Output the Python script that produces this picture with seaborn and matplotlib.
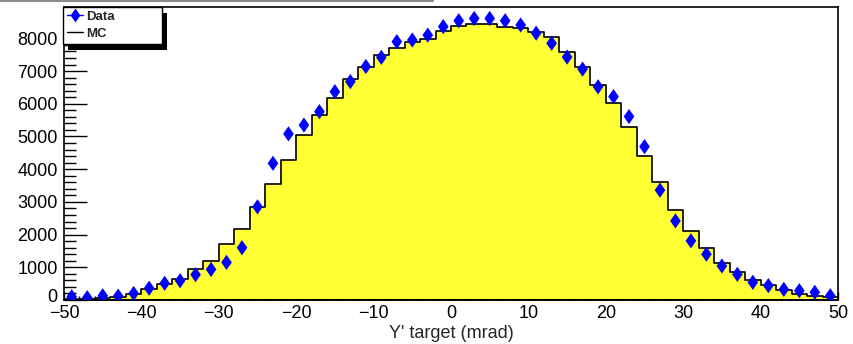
import numpy as np
import pandas as pd
import seaborn as sns
import matplotlib
matplotlib.use("Agg")
import matplotlib.pyplot as plt
from matplotlib.lines import Line2D
from matplotlib.patches import Rectangle
from matplotlib.transforms import IdentityTransform, ScaledTranslation
from matplotlib.ticker import MultipleLocator

# ---- data ----
bin_edges = list(range(-50, 51, 2))
bin_centers = list(range(-49, 50, 2))

mc_counts = [30, 45, 60, 90, 175, 325, 480, 630, 950, 1200,
             1700, 2160, 2830, 3540, 4280, 5050, 5660, 6170, 6750, 7140,
             7490, 7700, 7900, 7970, 8240, 8380, 8440, 8440, 8360, 8310,
             8210, 8050, 7590, 7140, 6580, 6010, 5300, 4400, 3620, 2750,
             2110, 1600, 1140, 870, 610, 460, 310, 180, 130, 100]

data_counts = [100, 70, 130, 120, 200, 360, 510, 590, 775, 935,
               1150, 1600, 2850, 4180, 5080, 5350, 5760, 6370, 6680, 7140,
               7420, 7900, 7950, 8100, 8360, 8540, 8610, 8610, 8540, 8410,
               8160, 7850, 7430, 7060, 6520, 6220, 5610, 4690, 3360, 2420,
               1810, 1400, 1040, 785, 540, 440, 325, 285, 235, 130]

x_ticks = [-50, -40, -30, -20, -10, 0, 10, 20, 30, 40, 50]
y_ticks = [0, 1000, 2000, 3000, 4000, 5000, 6000, 7000, 8000]
x_label = "Y' target (mrad)"
legend_labels = ["Data", "MC"]

df = pd.DataFrame({"x": bin_centers, "mc": mc_counts, "data": data_counts})

# ---- style ----
sns.set_style("ticks")
plt.rcParams["font.family"] = ["Liberation Sans", "DejaVu Sans"]

W, H = 854, 344
fig = plt.figure(figsize=(W / 100, H / 100), dpi=100)
ax = fig.add_axes([64 / W, 44 / H, 774 / W, 293 / H])

# MC histogram (filled yellow step with black outline)
sns.histplot(data=df, x="x", weights="mc", bins=bin_edges, element="step",
             fill=True, ax=ax, color="#ffff33", alpha=1.0,
             edgecolor="black", linewidth=1.2, zorder=1)

# Data points: ROOT-like diamond markers
diamond = [(0, 1), (0.7, 0), (0, -1), (-0.7, 0), (0, 1)]
sns.scatterplot(data=df, x="x", y="data", ax=ax, marker=diamond, s=120,
                color="#0000ff", edgecolor="none", linewidth=0, zorder=3)

ax.set_xlim(-50, 50)
ax.set_ylim(0, 8960)
ax.set_xticks(x_ticks)
ax.set_yticks(y_ticks)
ax.xaxis.set_minor_locator(MultipleLocator(2))
ax.yaxis.set_minor_locator(MultipleLocator(200))
ax.tick_params(which="both", direction="in", top=False, right=False,
               colors="black", width=1.0, labelsize=13)
ax.tick_params(axis="y", which="major", length=16.5, pad=4.5)
ax.tick_params(axis="y", which="minor", length=8.5)
ax.tick_params(axis="x", which="major", length=5.5, pad=3.5)
ax.tick_params(axis="x", which="minor", length=3)
for sp in ax.spines.values():
    sp.set_visible(True)
    sp.set_color("black")
    sp.set_linewidth(1.2)

ax.set_xlabel(x_label, fontsize=13, labelpad=2)
ax.set_ylabel("")

# Legend (ROOT style box with hard shadow)
handles = [Line2D([], [], color="#0000ff", marker=diamond, markersize=10,
                  markeredgewidth=0, lw=1.0),
           Line2D([], [], color="black", lw=1.0)]
leg = ax.legend(handles, legend_labels, loc="upper left",
                bbox_to_anchor=(63 / W, 1 - 7 / H, 99 / W, 0.001),
                bbox_transform=fig.transFigure, mode="expand",
                borderaxespad=0, frameon=True, fancybox=False,
                edgecolor="black", framealpha=1, borderpad=0.3,
                handlelength=1.2, handletextpad=0.25, labelspacing=0.35,
                prop={"weight": "bold", "size": 9.5})
leg.get_frame().set_linewidth(1.0)
leg.set_zorder(6)

fig.canvas.draw()

# nudge the y "0" label up so it sits just above the x "-50" label
for lab in ax.get_yticklabels():
    if lab.get_text() in ("0",):
        lab.set_transform(lab.get_transform() +
                          ScaledTranslation(0, 4 / 100, fig.dpi_scale_trans))

bb = leg.get_frame().get_window_extent()
shadow = Rectangle((bb.x0 + 5, bb.y0 - 6), bb.width, bb.height,
                   transform=IdentityTransform(), facecolor="black",
                   edgecolor="none", clip_on=False, zorder=5.5)
ax.add_artist(shadow)

# grey line at the top of the canvas (remnant of the title box)
fig.add_artist(Line2D([0, 433 / W], [1 - 1 / H, 1 - 1 / H],
                      transform=fig.transFigure, color="#8a8a8a", lw=1.5))

fig.savefig("out.png", dpi=100)
